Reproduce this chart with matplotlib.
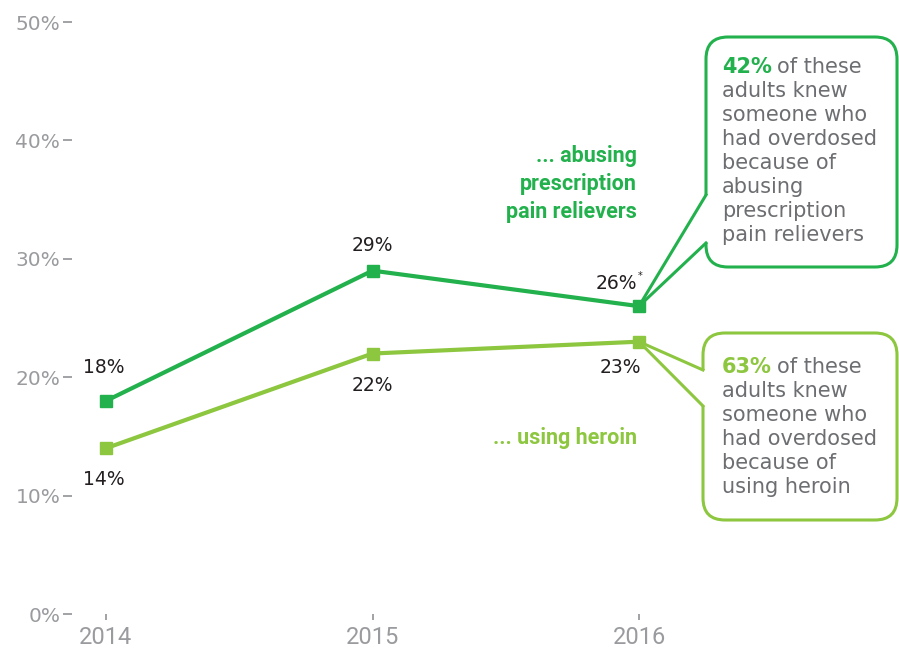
import matplotlib.pyplot as plt
import matplotlib.patches as mpatches
import matplotlib.transforms as mtransforms
from matplotlib.lines import Line2D

W, H = 899, 652

years = [2014, 2015, 2016]
pain_relievers = [18, 29, 26]
heroin = [14, 22, 23]
y_ticks = [0, 10, 20, 30, 40, 50]

dark_green = '#22b14c'
light_green = '#8dc63f'
tick_gray = '#9a9b9e'
box_gray = '#6d6e71'
value_black = '#231f20'

plt.rcParams['font.family'] = ['DejaVu Sans']

fig = plt.figure(figsize=(W / 100, H / 100), dpi=100)
# axes placed so 0% sits at y=614 px and 50% at y=22 px
ax = fig.add_axes([72 / W, (H - 614) / H, 1 - 72 / W, 592 / H])
ax.set_ylim(0, 50)
ax.set_xlim(2014 - 34 / 266.5, 2016 + 260 / 266.5)

for s in ax.spines.values():
    s.set_visible(False)

ax.set_yticks(y_ticks)
ax.set_yticklabels([f'{v}%' for v in y_ticks])
ax.set_xticks(years)
ax.set_xticklabels([str(y) for y in years])
ax.tick_params(axis='y', length=6.5, width=1.3, color=tick_gray, pad=2,
               labelsize=14.5, labelcolor=tick_gray)
ax.tick_params(axis='x', length=4.5, width=1.3, color=tick_gray, pad=4,
               labelsize=17, labelcolor=tick_gray)
for lab in ax.get_xticklabels():
    lab.set_family(['Roboto', 'DejaVu Sans'])

ax.plot(years, pain_relievers, color=dark_green, lw=3, marker='s', ms=8,
        zorder=5, clip_on=False)
ax.plot(years, heroin, color=light_green, lw=3, marker='s', ms=8,
        zorder=5, clip_on=False)

# value labels, offsets in pixels from each marker
pr_offsets = [(-2, 33), (0, 25), (-23, 23)]
he_offsets = [(-2, -31), (0, -32), (-19, -26)]
for x, v, off in zip(years, pain_relievers, pr_offsets):
    ax.annotate(f'{v}%', (x, v), xytext=off, textcoords='offset pixels',
                ha='center', va='center', fontsize=13.5, color=value_black)
for x, v, off in zip(years, heroin, he_offsets):
    ax.annotate(f'{v}%', (x, v), xytext=off, textcoords='offset pixels',
                ha='center', va='center', fontsize=13.5, color=value_black)
ax.annotate('*', (years[2], pain_relievers[2]), xytext=(-1, 30),
            textcoords='offset pixels', ha='left', va='center',
            fontsize=7, color=value_black)

px = mtransforms.IdentityTransform()

# series names
bold_fam = ['Roboto', 'DejaVu Sans']
for txt, yy in zip(['... abusing', 'prescription', 'pain relievers'], [156, 184, 212]):
    fig.text(637, H - yy, txt, transform=px, ha='right', va='center',
             fontsize=15.5, fontweight='bold', color=dark_green, family=bold_fam)
fig.text(637, H - 438, '... using heroin', transform=px, ha='right', va='center',
         fontsize=15.5, fontweight='bold', color=light_green, family=bold_fam)


def callout(x0, y0, x1, y1, e0, e1, tip, color):
    # rounded box in pixel coords (top origin) with a pointer to tip
    box = mpatches.FancyBboxPatch((x0, H - y1), x1 - x0, y1 - y0,
                                  boxstyle='round,pad=0,rounding_size=22',
                                  transform=px, fc='white', ec=color, lw=2.2,
                                  zorder=2)
    fig.add_artist(box)
    tx, ty = ax.transData.transform(tip)
    gap = mpatches.Polygon([(tx, ty), (x0, H - e0), (x0 + 3, H - e0),
                            (x0 + 3, H - e1), (x0, H - e1)],
                           closed=True, transform=px, fc='white', ec='none',
                           zorder=3)
    fig.add_artist(gap)
    for e in (e0, e1):
        fig.add_artist(Line2D([tx, x0], [ty, H - e], transform=px,
                              color=color, lw=2.2, zorder=3))


callout(706, 37, 897, 267, 195, 243, (years[2], pain_relievers[2]), dark_green)
callout(703, 333, 897, 520, 370, 406, (years[2], heroin[2]), light_green)

renderer = fig.canvas.get_renderer()


def box_text(x, y_first, pct, color, lines):
    t = fig.text(x, H - y_first, pct, transform=px, ha='left', va='center',
                 fontsize=15, fontweight='bold', color=color, zorder=6)
    bb = t.get_window_extent(renderer)
    fig.text(bb.x1 + 5, H - y_first, lines[0], transform=px, ha='left',
             va='center', fontsize=15, color=box_gray, zorder=6)
    for i, ln in enumerate(lines[1:], start=1):
        fig.text(x, H - (y_first + 24 * i), ln, transform=px, ha='left',
                 va='center', fontsize=15, color=box_gray, zorder=6)


box_text(722, 67, '42%', dark_green,
         ['of these', 'adults knew', 'someone who', 'had overdosed',
          'because of', 'abusing', 'prescription', 'pain relievers'])
box_text(722, 367, '63%', light_green,
         ['of these', 'adults knew', 'someone who', 'had overdosed',
          'because of', 'using heroin'])

fig.savefig('out.png', dpi=100)
